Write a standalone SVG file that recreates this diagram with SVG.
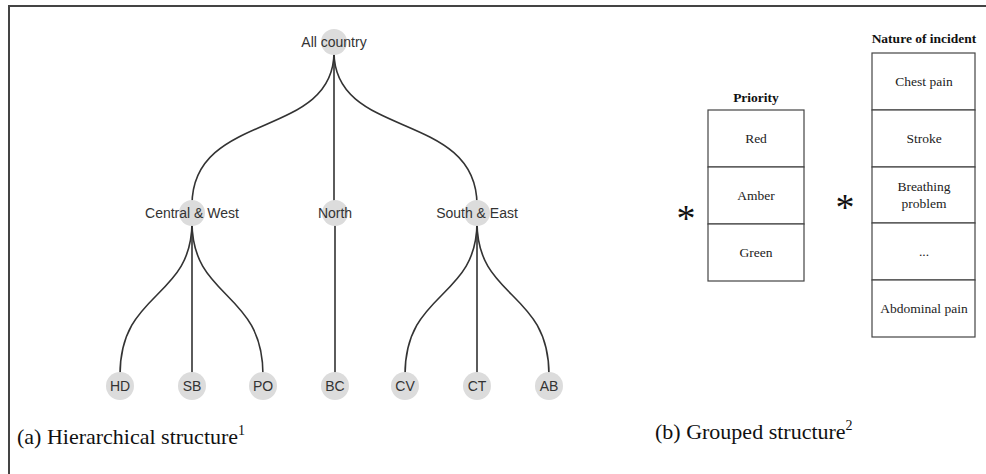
<svg xmlns="http://www.w3.org/2000/svg" width="986" height="474" viewBox="0 0 986 474">
<style>
.frame{stroke:#444;stroke-width:2;fill:none}
.edge{stroke:#333;stroke-width:1.6;fill:none}
.nd{fill:#dcdcdc}
.lbl{font-family:"Liberation Sans",Arial,sans-serif;font-size:14px;fill:#333;text-anchor:middle}
.cell{fill:#fff;stroke:#444;stroke-width:1.2}
.tt{font-family:"Liberation Serif","Times New Roman",serif;font-size:13.5px;fill:#222;text-anchor:middle}
.th{font-family:"Liberation Serif","Times New Roman",serif;font-size:13.5px;font-weight:bold;fill:#111;text-anchor:middle}
.cap{font-family:"Liberation Serif","Times New Roman",serif;font-size:22px;fill:#111}
.ast{font-family:"Liberation Serif","Times New Roman",serif;font-size:38px;fill:#111;text-anchor:middle}
</style>
<rect width="986" height="474" fill="#fff"/>
<path class="frame" d="M9,474 V6 H986"/>
<g id="connectors">
<path class="edge" d="M334,52 C334,140 192,110 192,205"/>
<path class="edge" d="M334,52 V205"/>
<path class="edge" d="M334,52 C334,140 477,110 477,205"/>
<path class="edge" d="M192,222 C192,300 120,290 120,375"/>
<path class="edge" d="M192,222 V375"/>
<path class="edge" d="M192,222 C192,300 263,290 263,375"/>
<path class="edge" d="M335,222 V375"/>
<path class="edge" d="M477,222 C477,300 405,290 405,375"/>
<path class="edge" d="M477,222 V375"/>
<path class="edge" d="M477,222 C477,300 549,290 549,375"/>
</g>
<g id="n-all"><circle class="nd" cx="334" cy="42" r="13"/><text class="lbl" x="334" y="47">All country</text></g>
<g id="n-cw"><circle class="nd" cx="192" cy="213" r="13"/><text class="lbl" x="192" y="218">Central &amp; West</text></g>
<g id="n-north"><circle class="nd" cx="335" cy="213" r="13"/><text class="lbl" x="335" y="218">North</text></g>
<g id="n-se"><circle class="nd" cx="477" cy="213" r="13"/><text class="lbl" x="477" y="218">South &amp; East</text></g>
<g id="n-hd"><circle class="nd" cx="120" cy="386" r="14"/><text class="lbl" x="120" y="391">HD</text></g>
<g id="n-sb"><circle class="nd" cx="192" cy="386" r="14"/><text class="lbl" x="192" y="391">SB</text></g>
<g id="n-po"><circle class="nd" cx="263" cy="386" r="14"/><text class="lbl" x="263" y="391">PO</text></g>
<g id="n-bc"><circle class="nd" cx="335" cy="386" r="14"/><text class="lbl" x="335" y="391">BC</text></g>
<g id="n-cv"><circle class="nd" cx="405" cy="386" r="14"/><text class="lbl" x="405" y="391">CV</text></g>
<g id="n-ct"><circle class="nd" cx="477" cy="386" r="14"/><text class="lbl" x="477" y="391">CT</text></g>
<g id="n-ab"><circle class="nd" cx="549" cy="386" r="14"/><text class="lbl" x="549" y="391">AB</text></g>
<g id="priority">
<text class="th" x="756" y="102">Priority</text>
<rect class="cell" x="708" y="110" width="96" height="57"/>
<rect class="cell" x="708" y="167" width="96" height="57"/>
<rect class="cell" x="708" y="224" width="96" height="57"/>
<text class="tt" x="756" y="143">Red</text>
<text class="tt" x="756" y="200">Amber</text>
<text class="tt" x="756" y="257">Green</text>
</g>
<g id="nature">
<text class="th" x="924" y="43">Nature of incident</text>
<rect class="cell" x="872" y="53" width="103" height="57"/>
<rect class="cell" x="872" y="110" width="103" height="57"/>
<rect class="cell" x="872" y="167" width="103" height="56"/>
<rect class="cell" x="872" y="223" width="103" height="57"/>
<rect class="cell" x="872" y="280" width="103" height="57"/>
<text class="tt" x="924" y="86">Chest pain</text>
<text class="tt" x="924" y="143">Stroke</text>
<text class="tt" x="924" y="191">Breathing</text>
<text class="tt" x="924" y="208">problem</text>
<text class="tt" x="924" y="256">...</text>
<text class="tt" x="924" y="313">Abdominal pain</text>
</g>
<text class="ast" x="686" y="231">*</text>
<text class="ast" x="845" y="220">*</text>
<text class="cap" x="17" y="444">(a) Hierarchical structure<tspan font-size="14" dy="-9">1</tspan></text>
<text class="cap" x="655" y="439">(b) Grouped structure<tspan font-size="14" dy="-9">2</tspan></text>
</svg>
